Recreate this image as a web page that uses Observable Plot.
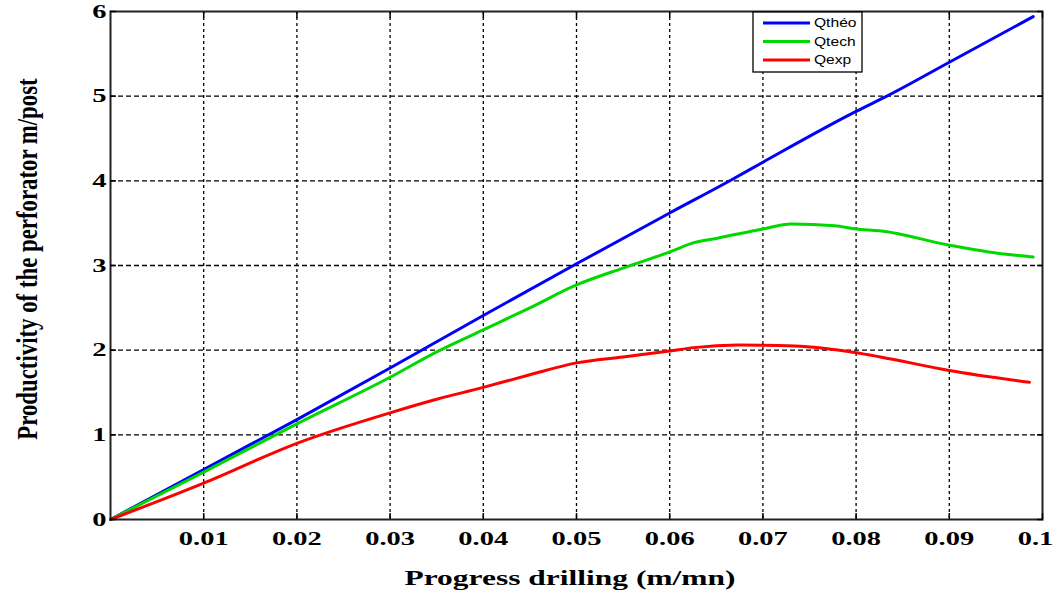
<!DOCTYPE html>
<html>
<head>
<meta charset="utf-8">
<script src="https://cdn.jsdelivr.net/npm/d3@7"></script>
<script src="https://cdn.jsdelivr.net/npm/@observablehq/plot@0.6"></script>
<style>
html,body{margin:0;padding:0;background:#fff;}
#chart{position:relative;width:1057px;height:596px;}
</style>
</head>
<body>
<div id="chart"></div>
<script>
// ---- data ----
const seriesNames = ["Qthéo", "Qtech", "Qexp"];
const seriesColors = ["#0000ff", "#00d800", "#ff0000"];

const xTheo = [0, 0.01, 0.02, 0.03, 0.04, 0.05, 0.06, 0.0666, 0.07, 0.08, 0.0833, 0.09, 0.099];
const qTheo = [0, 0.59, 1.18, 1.79, 2.41, 3.02, 3.62, 4.01, 4.22, 4.82, 5.0, 5.40, 5.94];

const xTech = [0, 0.01, 0.02, 0.03, 0.035, 0.04, 0.045, 0.05, 0.055, 0.06, 0.0626, 0.065, 0.07, 0.073, 0.0777, 0.08, 0.0825, 0.09, 0.0942, 0.099];
const qTech = [0, 0.56, 1.13, 1.68, 1.98, 2.24, 2.50, 2.77, 2.97, 3.16, 3.27, 3.32, 3.43, 3.49, 3.47, 3.43, 3.41, 3.24, 3.16, 3.10];

const xExp = [0, 0.01, 0.02, 0.03, 0.035, 0.04, 0.045, 0.05, 0.055, 0.06, 0.0626, 0.0673, 0.0734, 0.08, 0.0826, 0.09, 0.0986];
const qExp = [0, 0.43, 0.90, 1.26, 1.42, 1.56, 1.71, 1.85, 1.92, 1.99, 2.03, 2.06, 2.05, 1.97, 1.92, 1.76, 1.62];

const xTicks = [0.01, 0.02, 0.03, 0.04, 0.05, 0.06, 0.07, 0.08, 0.09, 0.1];
const yTicks = [0, 1, 2, 3, 4, 5, 6];
const xGrid = [0.01, 0.02, 0.03, 0.04, 0.05, 0.06, 0.07, 0.08, 0.09];
const yGrid = [1, 2, 3, 4, 5];

const xLabel = "Progress drilling (m/mn)";
const yLabel = "Productivity of the perforator m/post";

// ---- build tidy rows ----
const rows = [];
[[xTheo, qTheo], [xTech, qTech], [xExp, qExp]].forEach(([xs, ys], i) => {
  xs.forEach((x, j) => rows.push({series: seriesNames[i], x, y: ys[j]}));
});

const chart = Plot.plot({
  width: 1057,
  height: 596,
  marginLeft: 110,
  marginRight: 15,
  marginTop: 11,
  marginBottom: 77,
  style: {fontFamily: "'Liberation Serif', 'Times New Roman', serif", background: "#fff", color: "#000"},
  x: {domain: [0, 0.1]},
  y: {domain: [0, 6]},
  color: {domain: seriesNames, range: seriesColors},
  marks: [
    Plot.ruleX(xGrid, {stroke: "#000", strokeWidth: 1.3, strokeDasharray: "3,3"}),
    Plot.ruleY(yGrid, {stroke: "#000", strokeWidth: 1.3, strokeDasharray: "5,3"}),
    Plot.line(rows, {x: "x", y: "y", z: "series", stroke: "series", strokeWidth: 3, strokeLinejoin: "round", curve: "monotone-x"}),
    Plot.frame({stroke: "#222", strokeWidth: 2}),
    Plot.axisX(xTicks, {anchor: "bottom", tickSize: -6, tickPadding: 18, tickFormat: d => String(d), fontSize: 19, fontWeight: "bold", label: null, strokeWidth: 1.5}),
    Plot.axisX(xTicks, {anchor: "top", tickSize: -6, tickFormat: () => "", label: null, strokeWidth: 1.5}),
    Plot.axisY(yTicks, {anchor: "left", tickSize: -6, tickPadding: 10, tickFormat: d => String(d), fontSize: 19, fontWeight: "bold", label: null, strokeWidth: 1.5}),
    Plot.axisY(yTicks, {anchor: "right", tickSize: -6, tickFormat: () => "", label: null, strokeWidth: 1.5})
  ]
});

document.getElementById("chart").appendChild(chart);

// horizontally stretched text like in the reference
function stretch(sel, sx, sy, shiftText, shift) {
  d3.select(chart).selectAll(sel).each(function() {
    const node = this;
    if (!node.textContent) return;
    const extra = (shiftText && node.textContent === shiftText) ? shift : 0;
    const t = node.getAttribute("transform");
    if (t) {
      node.setAttribute("transform", `translate(${extra},0) ` + t + ` scale(${sx},${sy})`);
    } else {
      const x = +node.getAttribute("x") || 0, y = +node.getAttribute("y") || 0;
      node.setAttribute("x", 0); node.setAttribute("y", 0);
      node.setAttribute("transform", `translate(${x + extra},${y}) scale(${sx},${sy})`);
    }
  });
}
stretch('g[aria-label="x-axis tick label"] text', 1.5, 1, "0.1", -7);
stretch('g[aria-label="y-axis tick label"] text', 1.5, 1, null, 0);

const svg = d3.select(chart);

// axis titles
svg.append("text")
  .attr("transform", "translate(570,578) scale(1.5,1)")
  .attr("text-anchor", "middle").attr("dy", "0.35em")
  .attr("font-size", 21).attr("font-weight", "bold").attr("fill", "#000")
  .text(xLabel);
svg.append("text")
  .attr("transform", "translate(27,259) rotate(-90) scale(1.14,1.42)")
  .attr("text-anchor", "middle").attr("dy", "0.35em")
  .attr("font-size", 20).attr("font-weight", "bold").attr("fill", "#000")
  .text(yLabel);

// ---- legend (box inside the plot, top right) ----
const lg = svg.append("g").attr("transform", "translate(753,12)");
lg.append("rect").attr("width", 109).attr("height", 60).attr("fill", "#fff").attr("stroke", "#000").attr("stroke-width", 1.3);
seriesNames.forEach((name, i) => {
  const yy = 11 + i * 18.5;
  lg.append("line").attr("x1", 10).attr("x2", 57).attr("y1", yy).attr("y2", yy)
    .attr("stroke", seriesColors[i]).attr("stroke-width", 3);
  lg.append("text").attr("transform", `translate(61,${yy}) scale(1.3,1)`)
    .attr("text-anchor", "start")
    .attr("dy", "0.35em").attr("font-family", "'Liberation Sans', Arial, sans-serif")
    .attr("font-size", 12).attr("fill", "#000").text(name);
});
</script>
</body>
</html>
